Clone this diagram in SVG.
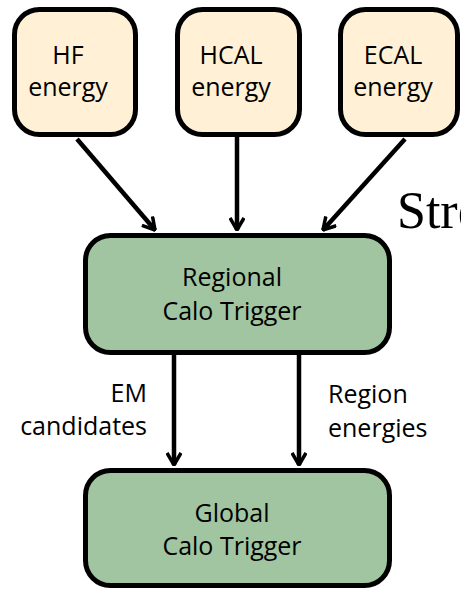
<svg xmlns="http://www.w3.org/2000/svg" width="461" height="589" viewBox="0 0 461 589">
<style>
.src{fill:#FFF0D6;stroke:#000;stroke-width:5}
.blk{fill:#A1C5A0;stroke:#000;stroke-width:5}
.t{font-family:"Open Sans","Liberation Sans",sans-serif;font-size:25px;fill:#000}
.c{text-anchor:middle}
.conn{stroke:#000;stroke-width:4.5;fill:none}
</style>
<defs>
<marker id="ah" viewBox="0 0 14 16" refX="13" refY="8" markerWidth="14" markerHeight="16" markerUnits="userSpaceOnUse" orient="auto">
<path d="M1,1 L13,8 L1,15" fill="none" stroke="#000" stroke-width="3.5"/>
</marker>
</defs>
<rect width="461" height="589" fill="#fff"/>
<g id="connectors">
<line class="conn" x1="77" y1="139" x2="155" y2="230" marker-end="url(#ah)"/>
<line class="conn" x1="237" y1="137" x2="237" y2="230" marker-end="url(#ah)"/>
<line class="conn" x1="405" y1="139" x2="323" y2="230" marker-end="url(#ah)"/>
<line class="conn" x1="174" y1="355" x2="174" y2="465" marker-end="url(#ah)"/>
<line class="conn" x1="299" y1="355" x2="299" y2="465" marker-end="url(#ah)"/>
<text class="t" x="147" y="402" text-anchor="end">EM</text>
<text class="t" x="147" y="435" text-anchor="end">candidates</text>
<text class="t" x="328" y="403">Region</text>
<text class="t" x="328" y="437">energies</text>
</g>
<g id="hf">
<rect class="src" x="14.5" y="9.5" width="121" height="125" rx="25"/>
<text class="t c" x="68" y="64">HF</text>
<text class="t c" x="68" y="96">energy</text>
</g>
<g id="hcal">
<rect class="src" x="177.5" y="9.5" width="122" height="125" rx="25"/>
<text class="t c" x="231" y="64">HCAL</text>
<text class="t c" x="231" y="96">energy</text>
</g>
<g id="ecal">
<rect class="src" x="340.5" y="9.5" width="117" height="125" rx="25"/>
<text class="t c" x="393" y="64">ECAL</text>
<text class="t c" x="393" y="96">energy</text>
</g>
<g id="rct">
<rect class="blk" x="85.5" y="235.5" width="304" height="117" rx="25"/>
<text class="t c" x="232" y="286">Regional</text>
<text class="t c" x="232" y="320">Calo Trigger</text>
</g>
<g id="gct">
<rect class="blk" x="85.5" y="470.5" width="304" height="115" rx="25"/>
<text class="t c" x="232" y="522">Global</text>
<text class="t c" x="232" y="555">Calo Trigger</text>
</g>
<text x="397" y="228" font-family="'Liberation Serif',serif" font-size="52" fill="#000">Stre</text>
</svg>
